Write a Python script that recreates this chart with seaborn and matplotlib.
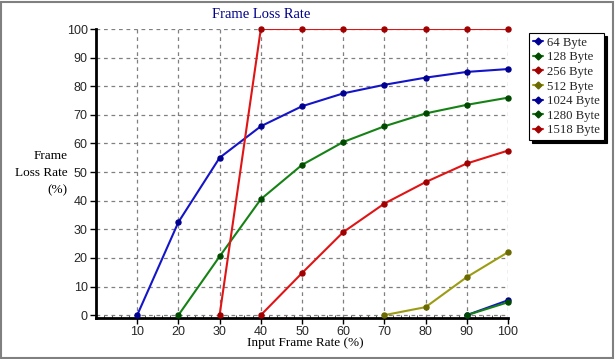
import pandas as pd
import numpy as np
import matplotlib
matplotlib.use("Agg")
import matplotlib.pyplot as plt
import seaborn as sns
from matplotlib.patches import Rectangle
from matplotlib.ticker import MultipleLocator

sns.set_style("white")
plt.rcParams['font.family'] = ['Liberation Serif', 'DejaVu Serif']

# data
x_64 = [10, 20, 30, 40, 50, 60, 70, 80, 90, 100]
y_64 = [0, 32.5, 55, 66, 73, 77.5, 80.5, 83, 85, 86]
x_128 = [20, 30, 40, 50, 60, 70, 80, 90, 100]
y_128 = [0, 20.5, 40.5, 52.5, 60.5, 66, 70.5, 73.5, 76]
x_256 = [40, 50, 60, 70, 80, 90, 100]
y_256 = [0, 14.7, 29, 39, 46.5, 53, 57.5]
x_512 = [70, 80, 90, 100]
y_512 = [0, 2.8, 13.3, 22]
x_1024 = [90, 100]
y_1024 = [0, 5.2]
x_1280 = [90, 100]
y_1280 = [0, 4.5]
x_1518 = [30, 40, 50, 60, 70, 80, 90, 100]
y_1518 = [0, 100, 100, 100, 100, 100, 100, 100]

series_names = ['64 Byte', '128 Byte', '256 Byte', '512 Byte', '1024 Byte', '1280 Byte', '1518 Byte']
series_x = [x_64, x_128, x_256, x_512, x_1024, x_1280, x_1518]
series_y = [y_64, y_128, y_256, y_512, y_1024, y_1280, y_1518]
line_colors = ['#1414c8', '#168216', '#e01414', '#9c9c14', '#1414c8', '#168216', '#e01414']
face_colors = ['#000090', '#004a00', '#a00000', '#6a6a00', '#000090', '#004a00', '#a00000']

rows = []
for name, xs, ys in zip(series_names, series_x, series_y):
    for a, b in zip(xs, ys):
        rows.append({'rate': a, 'loss': b, 'size': name})
df = pd.DataFrame(rows)

fig = plt.figure(figsize=(6.15, 3.59), dpi=100)
ax = fig.add_axes([96 / 615, 41 / 359, 412 / 615, 289 / 359])

ax.set_xlim(0, 100)
ax.set_ylim(-1, 100)
ax.set_xticks(range(10, 101, 10))
ax.set_yticks(range(0, 101, 10))
ax.xaxis.set_minor_locator(MultipleLocator(2))
ax.grid(True, which='major', color='#808080', linestyle=(0, (3, 3)), linewidth=0.9)
ax.set_axisbelow(True)

sns.lineplot(data=df, x='rate', y='loss', hue='size', hue_order=series_names,
             palette=dict(zip(series_names, line_colors)), ax=ax, legend=False,
             linewidth=1.5, sort=False, zorder=3)
for name, xs, ys, fc in zip(series_names, series_x, series_y, face_colors):
    ax.scatter(xs, ys, s=13, color=fc, edgecolor=fc, zorder=4, clip_on=False)

for s in ['top', 'right']:
    ax.spines[s].set_visible(False)
for s in ['left', 'bottom']:
    ax.spines[s].set_color('black')
    ax.spines[s].set_linewidth(2)

ax.tick_params(axis='both', which='major', direction='out', length=4, width=1,
               color='black', labelsize=9, pad=2, left=True, bottom=True)
ax.tick_params(axis='x', which='minor', direction='in', length=2, width=0.6,
               color='#333333', bottom=True)
for lab in ax.get_xticklabels() + ax.get_yticklabels():
    lab.set_fontfamily(['Liberation Sans', 'DejaVu Sans'])
ax.set_xlabel('')
ax.set_ylabel('')

fig.text(261 / 615, 1 - 15 / 359, 'Frame Loss Rate', color='#00008c', fontsize=10.5,
         ha='center', va='center')
fig.text(305 / 615, 1 - 343 / 359, 'Input Frame Rate (%)', color='black', fontsize=9.5,
         ha='center', va='center')
fig.text(68 / 615, 1 - 173 / 359, 'Frame\nLoss Rate\n(%)', color='black', fontsize=9.5,
         ha='right', va='center', multialignment='right', linespacing=1.6)

handles = [plt.Line2D([], [], color=c, marker='D', markersize=3.5, markerfacecolor=f,
                      markeredgecolor=f, linewidth=1.5)
           for c, f in zip(line_colors, face_colors)]
leg = fig.legend(handles, series_names, loc='upper left',
                 bbox_to_anchor=(529 / 615, 1 - 33 / 359), borderaxespad=0,
                 fontsize=9.2, handlelength=0.8, handletextpad=0.3,
                 labelspacing=0.2, borderpad=0.3, frameon=True, fancybox=False,
                 shadow={'color': 'black', 'alpha': 1})
leg.get_frame().set_edgecolor('black')
leg.get_frame().set_linewidth(0.8)

fig.patches.append(Rectangle((0.002, 0.004), 0.994, 0.99, transform=fig.transFigure,
                             fill=False, edgecolor='#808080', linewidth=1.5))

fig.savefig('out.png', dpi=100)
